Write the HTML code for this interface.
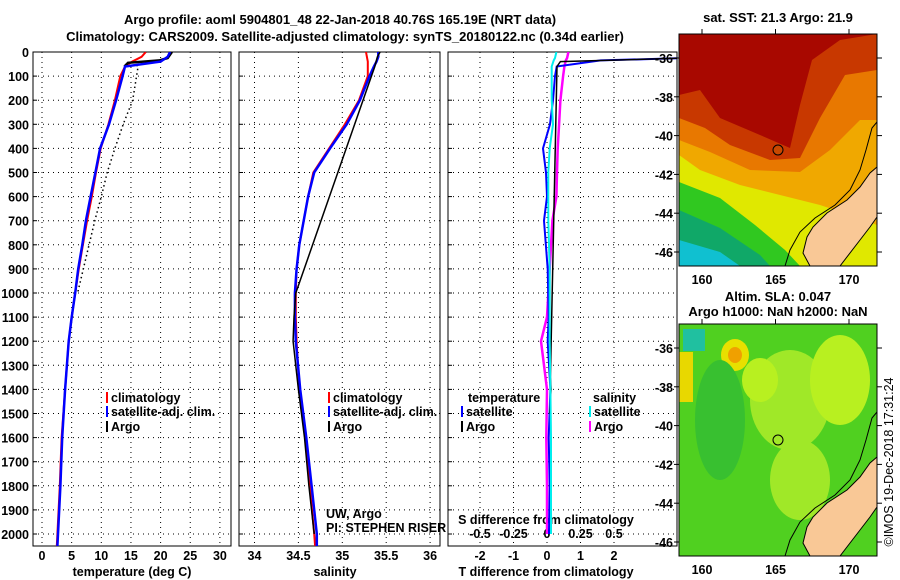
<!DOCTYPE html>
<html><head><meta charset="utf-8"><style>
html,body{margin:0;padding:0;background:#fff}
svg{display:block;font-family:"Liberation Sans",sans-serif}
.t{font-size:13px;font-weight:bold}
.tk{font-size:12.5px;font-weight:bold}
</style></head><body>
<svg id="c" width="900" height="580" viewBox="0 0 900 580">
<text class="t" x="340" y="24" text-anchor="middle">Argo profile: aoml 5904801_48 22-Jan-2018 40.76S 165.19E (NRT data)</text>
<text class="t" x="345" y="41" text-anchor="middle">Climatology: CARS2009. Satellite-adjusted climatology: synTS_20180122.nc (0.34d earlier)</text>
<g id="g"></g>
<g id="m1">
<rect x="679" y="34" width="198" height="232" fill="#a80800"/>
<polygon fill="#c83800" points="679,95 700,90 720,118 760,135 790,148 800,105 812,60 840,40 877,34 877,266 679,266"/>
<polygon fill="#e87800" points="679,118 705,128 730,145 770,160 800,158 820,118 845,75 877,70 877,266 679,266"/>
<polygon fill="#f0a800" points="679,140 710,152 750,170 800,172 830,150 860,120 877,120 877,266 679,266"/>
<polygon fill="#e0e800" points="679,155 700,170 740,185 780,195 820,205 850,215 877,225 877,266 679,266"/>
<polygon fill="#30c820" points="679,182 720,198 755,225 785,250 800,266 679,266"/>
<polygon fill="#10a868" points="679,210 720,228 760,255 770,266 679,266"/>
<polygon fill="#10c0d0" points="679,240 720,252 740,266 679,266"/>
<polygon fill="#f9c896" stroke="#000" stroke-width="1" points="877,167 870,173 860,187 847,200 827,213 813,227 807,237 803,253 810,266 840,266 860,240 870,227 877,217"/>
<polyline fill="none" stroke="#000" points="877,122 872,128 866,150 860,170 850,190 835,205 815,218 800,232 790,250 785,266"/>
<circle cx="778" cy="150" r="5" fill="#c84800" stroke="#000"/>
<rect x="679" y="34" width="198" height="232" fill="none" stroke="#000"/>
</g>
<g id="m2">
<rect x="679" y="324" width="198" height="232" fill="#50d020"/>
<ellipse cx="790" cy="400" rx="40" ry="50" fill="#a0e828"/>
<ellipse cx="840" cy="380" rx="30" ry="45" fill="#b8f020"/>
<ellipse cx="760" cy="380" rx="18" ry="22" fill="#b8f020"/>
<ellipse cx="800" cy="480" rx="30" ry="40" fill="#a0e828"/>
<ellipse cx="735" cy="355" rx="14" ry="16" fill="#e8e000"/>
<ellipse cx="735" cy="355" rx="7" ry="8" fill="#f0a000"/>
<rect x="679" y="352" width="14" height="50" fill="#e8d800"/>
<rect x="683" y="329" width="22" height="22" fill="#20c0a0"/>
<ellipse cx="720" cy="420" rx="25" ry="60" fill="#38c030"/>
<polygon fill="#f9c896" stroke="#000" points="877,457 870,463 860,477 847,490 827,503 813,517 807,527 803,543 810,556 840,556 860,530 870,517 877,507"/>
<polyline fill="none" stroke="#000" points="877,412 872,418 866,440 860,460 850,480 835,495 815,508 800,522 790,540 785,556"/>
<circle cx="778" cy="440" r="5" fill="none" stroke="#000"/>
<rect x="679" y="324" width="198" height="232" fill="none" stroke="#000"/>
</g>
<text class="t" x="778" y="22" text-anchor="middle">sat. SST: 21.3 Argo: 21.9</text>
<text class="t" x="778" y="301" text-anchor="middle">Altim. SLA: 0.047</text>
<text class="t" x="778" y="316" text-anchor="middle">Argo h1000: NaN h2000: NaN</text>
<text x="893" y="462" font-size="12.5" text-anchor="middle" transform="rotate(-90 893 462)">©IMOS 19-Dec-2018 17:31:24</text>
</svg>
<script>
const depthClim=[0,20,40,60,100,200,300,400,500,600,700,800,900,1000,1100,1200,1400,1600,1800,2000,2050];
const tempClim=[17.5,16.8,15.2,14.0,13.2,12.3,11.2,9.9,9.1,8.4,7.6,6.9,6.2,5.6,5.0,4.5,3.9,3.3,3.0,2.6,2.5];
const tempSat=[21.6,21.2,20.0,14.0,13.6,12.5,11.3,9.8,9.0,8.2,7.4,6.8,6.1,5.6,5.0,4.5,3.9,3.4,3.1,2.7,2.6];
const depthArgoT=[0,25,35,45,60,200,300,400,500,600,700,1000];
const tempArgo=[21.9,21.2,19.8,15.5,16.2,15.3,13.7,12.3,11.0,10.0,8.9,6.0];
const depthArgoTop=[0,25,35,45,60];
const tempArgoTop=[21.9,21.2,19.8,14.5,13.9];
const salClim=[35.27,35.28,35.29,35.29,35.29,35.19,35.03,34.85,34.67,34.61,34.56,34.51,34.48,34.47,34.47,34.48,34.51,34.58,34.63,34.68,34.69];
const salSat=[35.41,35.41,35.39,35.36,35.31,35.2,35.05,34.86,34.68,34.61,34.56,34.51,34.48,34.46,34.46,34.47,34.52,34.59,34.65,34.71,34.71];
const depthArgoS=[0,20,60,1000,1100,1200,1400,1600,1800,2000];
const salArgo=[35.43,35.40,35.37,34.47,34.45,34.44,34.50,34.57,34.62,34.68];
const depthDiff=[0,25,35,60,100,200,300,400,500,600,700,900,1100,1200,1400,1600,1800,2000];
const tDiffSat=[4.2,4.2,1.6,0.29,0.24,0.18,0.09,-0.12,-0.03,0,-0.09,0.02,0.05,0.02,0.1,0.05,0.08,0.06];
const depthArgoTD=[25,40,60,1350,1400,1450,1500];
const tDiffArgo=[4.2,0.4,0.3,0.1,0.12,0.1,0.08];
const sDiffSat=[0.07,0.06,0.05,0.035,0.035,0.035,0.045,0.02,0.01,0.01,0.01,0.02,0.02,0.02,0.025,0.03,0.03,0.03];
const sDiffArgo=[0.16,0.15,0.14,0.13,0.12,0.10,0.09,0.08,0.075,0.07,0.04,0.02,0.0,-0.045,0.0,-0.005,0.0,0.0];
const depthTicks=[0,100,200,300,400,500,600,700,800,900,1000,1100,1200,1300,1400,1500,1600,1700,1800,1900,2000];
const tTicks=[0,5,10,15,20,25,30];
const sTicks=[34,34.5,35,35.5,36];
const tdTicks=[-2,-1,0,1,2];
const sdTicks=[-0.5,-0.25,0,0.25,0.5];
const latTicks=[-36,-38,-40,-42,-44,-46];
const lonTicks=[160,165,170];

const NS="http://www.w3.org/2000/svg";
const G=document.getElementById('g');
const Y=d=>52+d*0.241;
const xT=v=>42+v*5.93, xS=v=>254.5+(v-34)*87.8, xTD=v=>547+v*33.5, xSD=v=>547+v*134;
const latY=(l,o)=>58+o+(-36-l)*19.4, lonX=l=>702+(l-160)*14.7;
function el(t,a,p){const e=document.createElementNS(NS,t);for(const k in a)e.setAttribute(k,a[k]);(p||G).appendChild(e);return e;}
function txt(s,x,y,anchor,cls){const e=el('text',{x:x,y:y,'text-anchor':anchor||'middle','class':cls||'tk'});e.textContent=s;return e;}
const panels=[{x0:33,x1:231,name:'temperature-panel'},{x0:239,x1:440,name:'salinity-panel'},{x0:448,x1:677,name:'difference-panel'}];
panels.forEach((p,i)=>{
  const gp=el('g',{});
  
  
  depthTicks.forEach(d=>{el('line',{x1:p.x0,x2:p.x1,y1:Y(d),y2:Y(d),stroke:'#000','stroke-dasharray':'1 4'},gp);
    el('line',{x1:p.x0,x2:p.x0+4,y1:Y(d),y2:Y(d),stroke:'#000'},gp);});
  const xs=i==0?tTicks.map(xT):i==1?sTicks.map(xS):tdTicks.map(xTD);
  xs.forEach(x=>el('line',{x1:x,x2:x,y1:52,y2:546,stroke:'#000','stroke-dasharray':'1 4'},gp));
  el('rect',{x:p.x0,y:52,width:p.x1-p.x0,height:494,fill:'none',stroke:'#000'},gp);
});
depthTicks.forEach(d=>{const t=txt(String(d),29,Y(d)+5,'end');});
tTicks.forEach(v=>{const t=txt(String(v),xT(v),560);});
sTicks.forEach(v=>{const t=txt(String(v),xS(v),560);});
tdTicks.forEach(v=>{const t=txt(String(v),xTD(v),560);});
sdTicks.forEach(v=>{const t=txt(String(v),xSD(v),538);});
[['temperature (deg C)',132,'temp-axis-title'],['salinity',335,'sal-axis-title'],['T difference from climatology',546,'tdiff-axis-title']].forEach(a=>{const t=txt(a[0],a[1],576);});
{const t=txt('S difference from climatology',546,524);}
function line(xs,ds,fx,col,w,name,dash){
  const pts=xs.map((v,i)=>fx(v).toFixed(1)+','+Y(ds[i]).toFixed(1)).join(' ');
  const a={points:pts,fill:'none',stroke:col,'stroke-width':w};
  if(dash)a['stroke-dasharray']=dash;
  const e=el('polyline',a);
  
  
  e.setAttribute('clip-path','url(#cp)');
}
const defs=el('defs',{});const cp=el('clipPath',{id:'cp'},defs);el('rect',{x:0,y:52,width:677,height:494},cp);
line(tempArgo,depthArgoT,xT,'#000',1.5,'temp-argo-interp-line','1.5 3');
line(tempClim,depthClim,xT,'#f00',2,'temp-climatology-line');
line(tempArgoTop,depthArgoTop,xT,'#000',2.5,'temp-argo-line');
line(tempSat,depthClim,xT,'#00f',2.5,'temp-satellite-line');
line(salClim,depthClim,xS,'#f00',2,'sal-climatology-line');
line(salSat,depthClim,xS,'#00f',2.5,'sal-satellite-line');
line(salArgo,depthArgoS,xS,'#000',1.5,'sal-argo-line');
line(sDiffArgo,depthDiff,xSD,'#f0f',2.5,'sdiff-argo-line');
line(tDiffSat,depthDiff,xTD,'#00f',2,'tdiff-satellite-line');
line(tDiffArgo,depthArgoTD,xTD,'#000',1.5,'tdiff-argo-line');
line(sDiffSat,depthDiff,xSD,'#0ee',2,'sdiff-satellite-line');
function leg(x,y,col,label){el('rect',{x:x,y:y-10,width:2,height:11,fill:col});const t=txt(label,x+5,y,'start');}
leg(106,402,'#f00','climatology');leg(106,416,'#00f','satellite-adj. clim.');leg(106,431,'#000','Argo');
leg(328,402,'#f00','climatology');leg(328,416,'#00f','satellite-adj. clim.');leg(328,431,'#000','Argo');
{const t=txt('temperature',468,402,'start');}
{const t=txt('salinity',593,402,'start');}
leg(461,416,'#00f','satellite');leg(461,431,'#000','Argo');
leg(589,416,'#0ee','satellite');leg(589,431,'#f0f','Argo');
{const t=txt('UW, Argo',326,518,'start','');t.setAttribute('font-size','12');}
{const t=txt('PI: STEPHEN RISER',326,532,'start','');t.setAttribute('font-size','12');}
[0,290].forEach(o=>{
  latTicks.forEach(l=>{const y=latY(l,o);el('line',{x1:674,x2:679,y1:y,y2:y,stroke:'#000'});el('line',{x1:877,x2:882,y1:y,y2:y,stroke:'#000'});
    const t=txt(String(l),673,y+5,'end');});
  lonTicks.forEach(l=>{const x=lonX(l);el('line',{x1:x,x2:x,y1:o+29,y2:o+34,stroke:'#000'});
    const t=txt(String(l),x,o+284);});
});
</script>
</body></html>
